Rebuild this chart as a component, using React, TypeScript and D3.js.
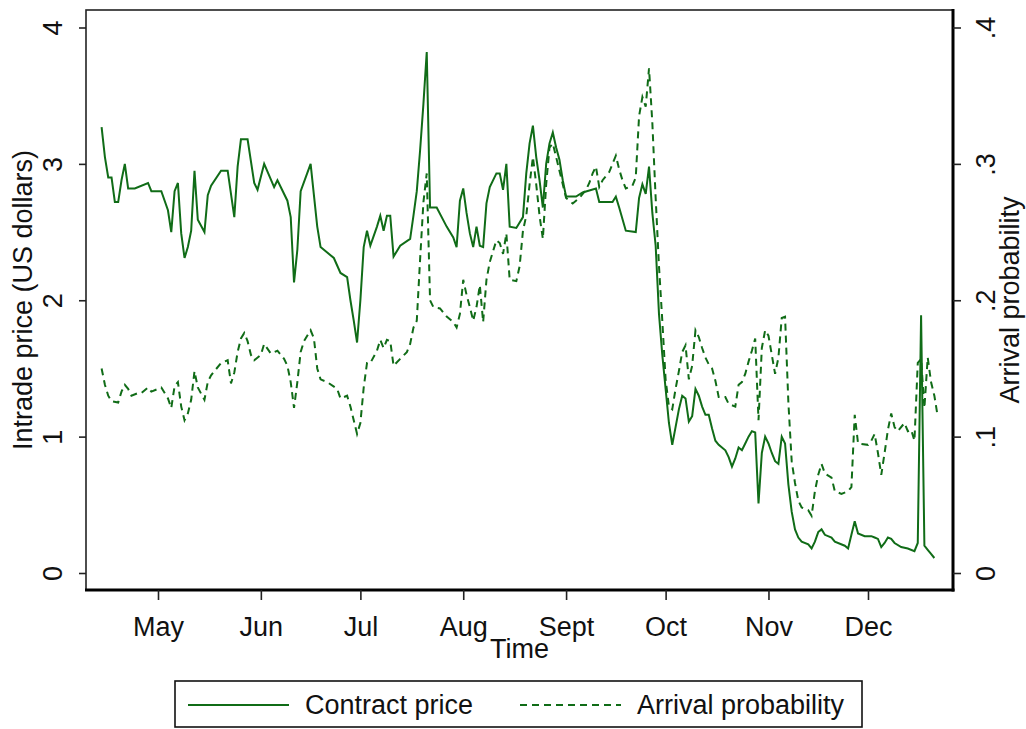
import React, { useEffect, useRef } from 'react';
import * as d3 from 'd3';

// Intrade contract price (US dollars)
const priceDates = [
  '04-14','04-15','04-16','04-17','04-18','04-19','04-20','04-21','04-22','04-24','04-28','04-29',
  '05-02','05-04','05-05','05-06','05-07','05-08','05-09','05-10','05-11','05-12','05-13','05-15',
  '05-16','05-17','05-20','05-22','05-24','05-25','05-26','05-28','05-30','05-31',
  '06-02','06-05','06-06','06-09','06-10','06-11','06-12','06-13','06-16','06-18','06-19','06-23',
  '06-25','06-27','06-28','06-29','06-30',
  '07-01','07-02','07-03','07-04','07-06','07-07','07-08','07-09','07-10','07-11','07-13','07-16',
  '07-17','07-18','07-19','07-20','07-21','07-22','07-24','07-27','07-29','07-30','07-31',
  '08-01','08-02','08-03','08-04','08-05','08-06','08-07','08-08','08-09','08-11','08-12','08-13',
  '08-14','08-15','08-17','08-19','08-20','08-21','08-22','08-23','08-24','08-25','08-26','08-27',
  '08-28','08-29','08-30','08-31',
  '09-01','09-04','09-06','09-10','09-11','09-15','09-16','09-17','09-19','09-22','09-23','09-24',
  '09-25','09-26','09-27','09-28','09-29','09-30',
  '10-01','10-02','10-03','10-04','10-05','10-06','10-07','10-08','10-09','10-10','10-11','10-12',
  '10-13','10-14','10-15','10-16','10-17','10-19','10-20','10-21','10-22','10-23','10-24','10-25',
  '10-26','10-27','10-28','10-29','10-30','10-31',
  '11-01','11-02','11-03','11-04','11-05','11-06','11-07','11-08','11-09','11-10','11-11','11-13',
  '11-14','11-15','11-16','11-17','11-18','11-20','11-21','11-24','11-25','11-26','11-27','11-28',
  '11-30',
  '12-02','12-03','12-04','12-05','12-06','12-07','12-08','12-09','12-11','12-13','12-15','12-16',
  '12-17','12-18','12-19','12-20','12-21',
];
const priceValues = [
  3.27,3.05,2.90,2.90,2.72,2.72,2.88,3.00,2.82,2.82,2.86,2.80,
  2.80,2.66,2.50,2.80,2.86,2.49,2.31,2.39,2.51,2.95,2.59,2.50,
  2.77,2.84,2.95,2.95,2.61,2.98,3.18,3.18,2.86,2.81,
  3.00,2.83,2.88,2.73,2.61,2.13,2.37,2.80,3.00,2.54,2.39,2.31,
  2.20,2.17,2.00,1.85,1.69,
  2.00,2.39,2.51,2.40,2.54,2.62,2.51,2.62,2.62,2.32,2.40,2.45,
  2.62,2.80,3.10,3.44,3.82,2.68,2.68,2.54,2.46,2.39,2.73,
  2.82,2.64,2.49,2.39,2.54,2.40,2.39,2.71,2.83,2.93,2.93,2.81,
  3.00,2.54,2.53,2.61,2.93,3.15,3.28,3.05,2.88,2.68,3.00,3.15,
  3.23,3.12,3.03,2.88,
  2.76,2.76,2.79,2.82,2.72,2.72,2.76,2.68,2.51,2.50,2.75,2.85,
  2.78,2.98,2.64,2.40,1.90,1.60,
  1.35,1.10,0.94,1.07,1.20,1.30,1.28,1.11,1.15,1.35,1.30,1.22,
  1.16,1.16,1.06,0.97,0.94,0.90,0.85,0.78,0.84,0.92,0.90,0.95,
  1.00,1.04,1.03,0.51,0.88,1.00,
  0.95,0.88,0.82,0.80,1.00,0.95,0.65,0.45,0.32,0.26,0.23,0.21,
  0.18,0.23,0.30,0.32,0.28,0.26,0.23,0.20,0.18,0.28,0.38,0.29,
  0.27,
  0.27,0.26,0.25,0.19,0.22,0.26,0.25,0.22,0.19,0.18,0.16,0.22,
  1.89,0.20,0.17,0.14,0.11,
];

// Arrival probability
const probDates = [
  '04-14','04-15','04-16','04-17','04-19','04-20','04-21','04-22','04-23','04-25','04-26','04-28','04-29',
  '05-02','05-04','05-05','05-06','05-07','05-08','05-09','05-10','05-11','05-12','05-13','05-15',
  '05-16','05-17','05-20','05-22','05-23','05-24','05-25','05-26','05-27','05-28','05-29','05-30',
  '06-01','06-02','06-04','06-06','06-08','06-09','06-10','06-11','06-12','06-13','06-14','06-16',
  '06-17','06-18','06-19','06-21','06-24','06-25','06-27','06-28','06-29','06-30',
  '07-01','07-02','07-03','07-04','07-06','07-07','07-08','07-09','07-10','07-11','07-13','07-15',
  '07-16','07-17','07-18','07-19','07-20','07-21','07-22','07-23','07-25','07-27','07-29','07-30','07-31',
  '08-01','08-02','08-03','08-04','08-05','08-06','08-07','08-08','08-09','08-11','08-12','08-13',
  '08-14','08-15','08-17','08-18','08-19','08-20','08-21','08-22','08-23','08-24','08-25','08-26',
  '08-27','08-28','08-29','08-30','08-31',
  '09-01','09-03','09-05','09-07','09-08','09-09','09-10','09-11','09-12','09-14','09-15','09-16',
  '09-17','09-18','09-19','09-21','09-22','09-23','09-24','09-25','09-26','09-27','09-28','09-29','09-30',
  '10-01','10-02','10-03','10-04','10-05','10-06','10-07','10-08','10-09','10-10','10-11','10-12',
  '10-13','10-14','10-15','10-16','10-17','10-19','10-20','10-22','10-23','10-24','10-25','10-26',
  '10-27','10-28','10-29','10-30','10-31',
  '11-01','11-02','11-03','11-04','11-05','11-06','11-07','11-08','11-09','11-10','11-11','11-13',
  '11-14','11-15','11-16','11-17','11-18','11-20','11-21','11-23','11-25','11-26','11-27','11-28',
  '12-01','12-02','12-03','12-04','12-05','12-06','12-07','12-08','12-09','12-10','12-12','12-13',
  '12-14','12-15','12-16','12-17','12-18','12-19','12-20','12-21','12-22',
];
const probValues = [
  .150,.138,.130,.126,.125,.133,.138,.135,.130,.132,.132,.136,.133,
  .136,.128,.121,.137,.140,.122,.112,.117,.127,.148,.136,.127,
  .140,.145,.154,.156,.139,.147,.162,.172,.176,.170,.160,.156,
  .160,.168,.161,.163,.157,.152,.140,.121,.140,.162,.170,.178,
  .172,.150,.142,.140,.135,.128,.130,.122,.112,.102,
  .110,.136,.154,.154,.163,.171,.165,.171,.170,.152,.157,.162,
  .168,.180,.185,.230,.272,.293,.200,.195,.194,.188,.184,.180,.190,
  .215,.204,.195,.185,.195,.211,.184,.215,.228,.244,.242,.234,
  .249,.215,.214,.225,.251,.262,.285,.305,.285,.262,.245,.285,
  .312,.315,.305,.295,.285,
  .275,.271,.275,.281,.286,.293,.298,.283,.288,.294,.300,.306,
  .296,.288,.282,.284,.290,.335,.349,.342,.370,.330,.275,.225,.185,
  .142,.122,.120,.135,.148,.162,.167,.142,.152,.178,.173,.165,
  .158,.153,.150,.141,.129,.129,.124,.122,.138,.140,.146,.155,
  .163,.172,.112,.165,.178,
  .174,.160,.146,.158,.187,.188,.125,.082,.066,.053,.048,.046,
  .042,.060,.072,.080,.073,.070,.060,.058,.060,.063,.116,.095,
  .094,.097,.102,.088,.072,.088,.105,.117,.107,.104,.110,.104,
  .105,.097,.154,.157,.121,.158,.140,.130,.115,
];

const monthTicks = ['05-01','06-01','07-01','08-01','09-01','10-01','11-01','12-01'];
const monthLabels = ['May','Jun','Jul','Aug','Sept','Oct','Nov','Dec'];
const leftTicks = [0, 1, 2, 3, 4];
const rightTicks = [0, 0.1, 0.2, 0.3, 0.4];
const rightTickLabels = ['0', '.1', '.2', '.3', '.4'];

const YEAR = 2008;
const GREEN = '#106c17';
const FONT = "'Liberation Sans', Arial, sans-serif";
const FS = '27px';
const DASH = '7,5';

const App = () => {
  const ref = useRef<SVGSVGElement>(null);

  useEffect(() => {
    const width = 1026;
    const height = 729;
    const left = 86, right = 953, top = 10, bottom = 590;
    const parse = d3.timeParse('%Y-%m-%d');
    const toDate = (s: string) => parse(`${YEAR}-${s}`) as Date;

    const svg = d3.select(ref.current);
    svg.selectAll('*').remove();
    svg.attr('width', width).attr('height', height);

    svg.append('rect').attr('width', width).attr('height', height).attr('fill', '#fff');

    const x = d3.scaleTime()
      .domain([toDate('05-01'), toDate('12-01')])
      .range([158, 868]);
    const yLeft = d3.scaleLinear().domain([0, 4]).range([573, 27.5]);
    const yRight = d3.scaleLinear().domain([0, 0.4]).range([573, 27.5]);

    // plot region frame
    svg.append('rect')
      .attr('x', left).attr('y', top)
      .attr('width', right - left).attr('height', bottom - top)
      .attr('fill', 'none').attr('stroke', '#222').attr('stroke-width', 1.6);

    // series
    const price = priceDates.map((d, i) => ({ date: toDate(d), v: priceValues[i] }));
    const prob = probDates.map((d, i) => ({ date: toDate(d), v: probValues[i] }));

    const priceLine = d3.line<{ date: Date; v: number }>()
      .x(d => x(d.date)).y(d => yLeft(d.v));
    const probLine = d3.line<{ date: Date; v: number }>()
      .x(d => x(d.date)).y(d => yRight(d.v));

    svg.append('path').datum(prob)
      .attr('d', probLine).attr('fill', 'none')
      .attr('stroke', GREEN).attr('stroke-width', 2)
      .attr('stroke-dasharray', DASH);

    svg.append('path').datum(price)
      .attr('d', priceLine).attr('fill', 'none')
      .attr('stroke', GREEN).attr('stroke-width', 2);

    // thick bottom / right edges
    svg.append('line').attr('x1', left - 1).attr('x2', right + 1.5)
      .attr('y1', bottom).attr('y2', bottom)
      .attr('stroke', '#000').attr('stroke-width', 3);
    svg.append('line').attr('x1', right).attr('x2', right)
      .attr('y1', top - 1).attr('y2', bottom + 1.5)
      .attr('stroke', '#000').attr('stroke-width', 3);

    const styleText = (sel: any) => sel
      .attr('fill', '#111')
      .style('font-family', FONT).style('font-size', FS);

    // left axis
    const gl = svg.append('g').attr('transform', `translate(${left},0)`)
      .call(d3.axisLeft(yLeft).tickValues(leftTicks).tickSize(7).tickFormat(d => String(d)));
    gl.select('.domain').remove();
    gl.selectAll('line').attr('stroke', '#222').attr('stroke-width', 1.6);
    gl.selectAll('text')
      .attr('x', null)
      .attr('transform', 'translate(-33.5,0) rotate(-90)')
      .attr('dy', '0.35em')
      .attr('text-anchor', 'middle')
      .call(styleText);

    // right axis
    const gr = svg.append('g').attr('transform', `translate(${right},0)`)
      .call(d3.axisRight(yRight).tickValues(rightTicks).tickSize(8)
        .tickFormat((d, i) => rightTickLabels[i]));
    gr.select('.domain').remove();
    gr.selectAll('line').attr('stroke', '#222').attr('stroke-width', 1.6);
    gr.selectAll('text')
      .attr('x', null)
      .attr('transform', 'translate(33,0) rotate(-90)')
      .attr('dy', '0.35em')
      .attr('text-anchor', 'middle')
      .call(styleText);

    // bottom axis
    const gb = svg.append('g').attr('transform', `translate(0,${bottom})`)
      .call(d3.axisBottom(x).tickValues(monthTicks.map(toDate)).tickSize(10)
        .tickFormat((d, i) => monthLabels[i]));
    gb.select('.domain').remove();
    gb.selectAll('line').attr('stroke', '#222').attr('stroke-width', 1.6);
    gb.selectAll('text')
      .attr('y', 46).attr('dy', null)
      .call(styleText);

    // axis titles
    svg.append('text')
      .attr('transform', `translate(22.5,${(top + bottom) / 2}) rotate(-90)`)
      .attr('dy', '0.35em').attr('text-anchor', 'middle')
      .call(styleText)
      .text('Intrade price (US dollars)');
    svg.append('text')
      .attr('transform', `translate(1010,${(top + bottom) / 2}) rotate(-90)`)
      .attr('dy', '0.35em').attr('text-anchor', 'middle')
      .call(styleText)
      .text('Arrival probability');
    svg.append('text')
      .attr('x', (left + right) / 2).attr('y', 658)
      .attr('text-anchor', 'middle')
      .call(styleText)
      .text('Time');

    // legend
    const lg = svg.append('g');
    lg.append('rect').attr('x', 175).attr('y', 681).attr('width', 687).attr('height', 46)
      .attr('fill', '#fff').attr('stroke', '#111').attr('stroke-width', 1.6);
    lg.append('line').attr('x1', 188).attr('x2', 289).attr('y1', 705).attr('y2', 705)
      .attr('stroke', GREEN).attr('stroke-width', 2);
    lg.append('text').attr('x', 305).attr('y', 714).call(styleText).text('Contract price');
    lg.append('line').attr('x1', 520).attr('x2', 621).attr('y1', 705).attr('y2', 705)
      .attr('stroke', GREEN).attr('stroke-width', 2).attr('stroke-dasharray', DASH);
    lg.append('text').attr('x', 637).attr('y', 714).call(styleText).text('Arrival probability');
  }, []);

  return (
    <div style={{ position: 'absolute', left: 0, top: 0 }}>
      <svg ref={ref} style={{ display: 'block' }} />
    </div>
  );
};

export default App;
